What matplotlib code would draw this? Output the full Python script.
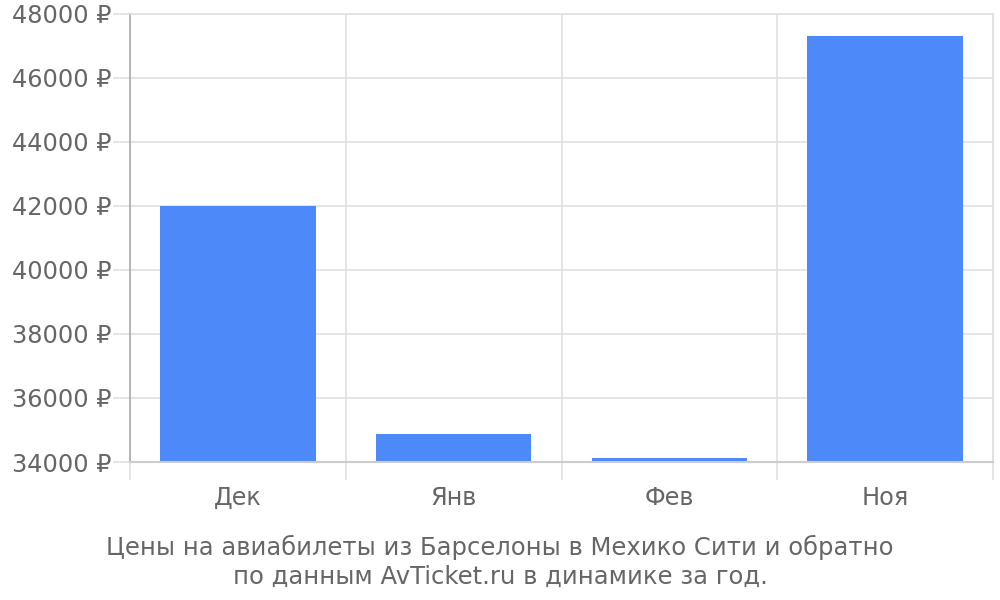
import matplotlib

matplotlib.use("Agg")

import matplotlib.pyplot as plt
import numpy as np

months = ["Дек", "Янв", "Фев", "Ноя"]
prices = [42000, 34870, 34110, 47320]
y_ticks = list(range(34000, 48001, 2000))
caption = ("Цены на авиабилеты из Барселоны в Мехико Сити и обратно\n"
           "по данным AvTicket.ru в динамике за год.")

text_color = "#666666"
grid_color = "#e0e0e0"

fig = plt.figure(figsize=(10, 6), dpi=100)
ax = fig.add_axes([0.13, 0.23, 0.863, 0.747])

x = np.arange(len(months))
ax.bar(x, [p - y_ticks[0] for p in prices], bottom=y_ticks[0], width=0.72,
       color="#4d89f9", zorder=3)

ax.set_xlim(-0.5, len(months) - 0.5)
ax.set_ylim(y_ticks[0], y_ticks[-1])

# y axis
ax.set_yticks(y_ticks)
ax.set_yticklabels([f"{v} ₽" for v in y_ticks], fontsize=17.3, color=text_color)
ax.tick_params(axis="y", length=12.5, width=1.2, color=grid_color, pad=1)
ax.yaxis.grid(True, color=grid_color, linewidth=1.2, zorder=0)

# x axis: boundary ticks + centered labels
ax.set_xticks(np.arange(-0.5, len(months)), labels=[""] * (len(months) + 1))
ax.tick_params(axis="x", which="major", length=13, width=1.2, color=grid_color)
ax.set_xticks(x, labels=months, minor=True)
ax.tick_params(axis="x", which="minor", length=0, labelsize=17.3,
               labelcolor=text_color, pad=17.5)
ax.xaxis.grid(True, which="major", color=grid_color, linewidth=1.2, zorder=0)

for side in ["top", "right"]:
    ax.spines[side].set_color(grid_color)
    ax.spines[side].set_linewidth(1.2)
ax.spines["left"].set_color("#aaaaaa")
ax.spines["left"].set_linewidth(1.2)
ax.spines["bottom"].set_color("#cccccc")
ax.spines["bottom"].set_linewidth(1.5)
ax.spines["bottom"].set_zorder(4)

fig.text(0.5, 0.063, caption, ha="center", va="center", fontsize=17.5,
         color=text_color, linespacing=1.24)

fig.savefig("out.png", dpi=100)
plt.close("all")
